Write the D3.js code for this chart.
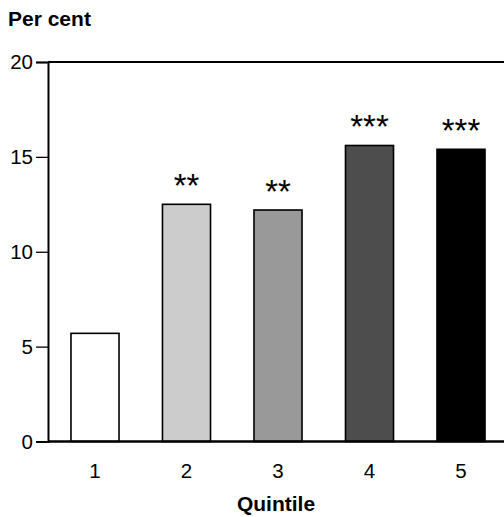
<!DOCTYPE html>
<html>
<head>
<meta charset="utf-8">
<script src="https://cdn.jsdelivr.net/npm/d3@7"></script>
<style>
  html, body { margin: 0; padding: 0; background: #fff; }
  svg { display: block; }
  text { font-family: "Liberation Sans", Arial, sans-serif; fill: #000; }
</style>
</head>
<body>
<svg id="chart" width="504" height="517"></svg>
<script>
const categories = ["1", "2", "3", "4", "5"];
const values = [5.7, 12.5, 12.2, 15.6, 15.4];
const significance = ["", "**", "**", "***", "***"];
const fills = ["#ffffff", "#cccccc", "#999999", "#4d4d4d", "#000000"];
const yTicks = [0, 5, 10, 15, 20];

(function () {
const svg = d3.select("#chart");
const mLeft = 48, mTop = 62, mBottom = 441.5, mRight = 506.75;

const x = d3.scaleBand().domain(categories).range([mLeft + 1.25, mRight])
  .paddingInner(0.475).paddingOuter(0.2375);
const y = d3.scaleLinear().domain([0, 20]).range([mBottom, mTop]);

// bars
svg.append("g").selectAll("rect").data(values).join("rect")
  .attr("x", (d, i) => x(categories[i]))
  .attr("y", d => y(d))
  .attr("width", x.bandwidth())
  .attr("height", d => y(0) - y(d))
  .attr("fill", (d, i) => fills[i])
  .attr("stroke", "#000")
  .attr("stroke-width", 1.6);

// significance stars
svg.append("g").selectAll("text").data(values).join("text")
  .attr("x", (d, i) => x(categories[i]) + x.bandwidth() / 2)
  .attr("y", d => y(d) - 7)
  .attr("text-anchor", "middle")
  .style("font-size", "33px")
  .text((d, i) => significance[i]);

// top frame line
svg.append("line")
  .attr("x1", mLeft).attr("x2", 504)
  .attr("y1", y(20)).attr("y2", y(20))
  .attr("stroke", "#000").attr("stroke-width", 2);

// y axis
const yAxis = d3.axisLeft(y).tickValues(yTicks).tickSize(12).tickPadding(3);
const gy = svg.append("g").attr("transform", `translate(${mLeft},0)`).call(yAxis);
gy.select(".domain").attr("stroke", "#000").attr("stroke-width", 2);
gy.selectAll(".tick line").attr("stroke", "#000").attr("stroke-width", 1.3);
gy.selectAll(".tick text").style("font-size", "20.5px")
  .style("font-family", '"Liberation Sans", Arial, sans-serif').attr("fill", "#000");

// x axis
const xAxis = d3.axisBottom(x).tickSize(0).tickPadding(22);
const gx = svg.append("g").attr("transform", `translate(0,${mBottom})`).call(xAxis);
gx.select(".domain").attr("d", `M${mLeft},0H504`).attr("stroke", "#000").attr("stroke-width", 2.5);
gx.selectAll(".tick text").style("font-size", "20.5px")
  .style("font-family", '"Liberation Sans", Arial, sans-serif').attr("fill", "#000");

// titles
svg.append("text").attr("x", 8).attr("y", 26)
  .style("font-size", "21px").style("font-weight", "bold").text("Per cent");
svg.append("text").attr("x", 276).attr("y", 511).attr("text-anchor", "middle")
  .style("font-size", "21px").style("font-weight", "bold").text("Quintile");
})();
</script>
</body>
</html>
